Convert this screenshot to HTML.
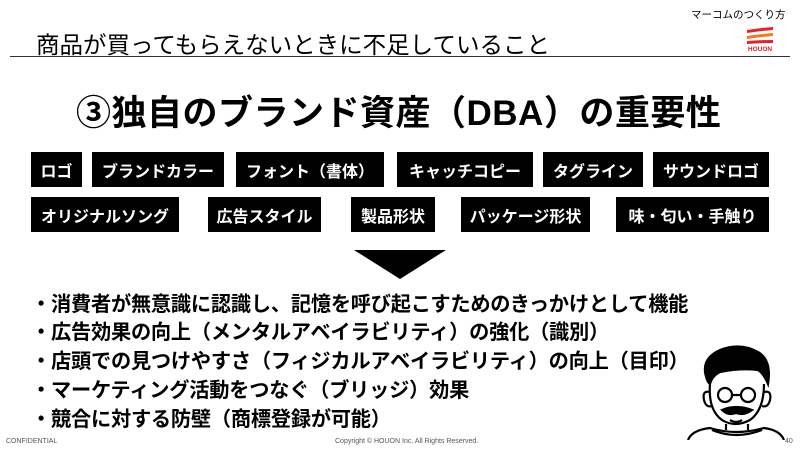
<!DOCTYPE html>
<html><head><meta charset="utf-8"><style>
body{margin:0;width:800px;height:450px;background:#fff;position:relative;overflow:hidden;font-family:"Liberation Sans","Noto Sans CJK JP",sans-serif;color:#000}
.a{position:absolute;white-space:nowrap}
.b{position:absolute;background:#000;color:#fff;font-weight:bold;font-size:16px;display:flex;align-items:center;justify-content:center;white-space:nowrap}
.r1{top:152px;height:35px}.r2{top:197px;height:35px}
.li{position:absolute;left:31px;font-size:20.2px;font-weight:bold;white-space:nowrap;letter-spacing:-0.2px}
</style></head><body>
<div class="a" style="left:691px;top:7px;font-size:10.5px">マーコムのつくり方</div>
<svg class="a" style="left:745px;top:26px" width="30" height="26" viewBox="0 0 30 26">
<path d="M2 4 Q15 2 28 1 L28 4 Q15 5 2 7Z" fill="#e8202a"/>
<path d="M2 10 Q15 8 28 7 L28 10 Q15 11 2 13Z" fill="#f07a20"/>
<path d="M2 15 Q15 14 28 14 L28 17 Q15 17 2 18Z" fill="#e8202a"/>
<text x="15" y="25" font-size="6.5" font-weight="bold" fill="#e8202a" text-anchor="middle" font-family="Liberation Sans">HOUON</text>
</svg>
<div class="a" style="left:36px;top:26px;font-size:23.5px">商品が買ってもらえないときに不足していること</div>
<div class="a" style="left:10px;top:56px;width:780px;height:1px;background:#333"></div>
<div class="a" style="left:76px;top:85px;font-size:35px;font-weight:bold;letter-spacing:0.5px">③独自のブランド資産（DBA）の重要性</div>
<div class="b r1" style="left:31px;width:51px">ロゴ</div>
<div class="b r1" style="left:92px;width:132px">ブランドカラー</div>
<div class="b r1" style="left:236px;width:148px">フォント（書体）</div>
<div class="b r1" style="left:397px;width:136px">キャッチコピー</div>
<div class="b r1" style="left:543px;width:100px">タグライン</div>
<div class="b r1" style="left:653px;width:116px">サウンドロゴ</div>
<div class="b r2" style="left:31px;width:148px">オリジナルソング</div>
<div class="b r2" style="left:208px;width:113px">広告スタイル</div>
<div class="b r2" style="left:351px;width:84px">製品形状</div>
<div class="b r2" style="left:461px;width:129px">パッケージ形状</div>
<div class="b r2" style="left:616px;width:153px">味・匂い・手触り</div>
<svg class="a" style="left:354px;top:250px" width="92" height="29"><polygon points="0,0 92,0 46,29" fill="#000"/></svg>
<div class="li" style="top:288px">・消費者が無意識に認識し、記憶を呼び起こすためのきっかけとして機能</div>
<div class="li" style="top:316px">・広告効果の向上（メンタルアベイラビリティ）の強化（識別）</div>
<div class="li" style="top:345px">・店頭での見つけやすさ（フィジカルアベイラビリティ）の向上（目印）</div>
<div class="li" style="top:374px">・マーケティング活動をつなぐ（ブリッジ）効果</div>
<div class="li" style="top:403px">・競合に対する防壁（商標登録が可能）</div>
<svg class="a" style="left:680px;top:340px" width="110" height="100" viewBox="0 0 110 100" fill="none" stroke="#000" stroke-width="2.2">
<path d="M28 42 Q18 20 40 10 Q60 2 78 12 Q92 20 88 44 Q84 34 78 30 Q60 28 40 32 Q32 36 30 44Z" fill="#000"/>
<path d="M30 44 Q28 70 42 80 Q55 88 70 80 Q84 70 84 44"/>
<path d="M30 52 Q22 50 24 60 Q26 68 32 66"/>
<path d="M84 52 Q92 50 90 60 Q88 68 82 66"/>
<circle cx="45" cy="55" r="7"/><circle cx="68" cy="55" r="7"/><path d="M52 55 L61 55"/>
<path d="M42 70 Q56 64 72 70 Q64 76 56 73 Q48 76 42 70Z" fill="#000"/>
<path d="M50 80 Q56 84 62 80"/>
<path d="M46 84 L46 90 M68 84 L68 90"/>
<path d="M8 100 Q12 90 30 88 Q56 96 84 88 Q100 90 104 100"/>
<path d="M32 90 Q56 100 82 90"/>
</svg>
<div class="a" style="left:6px;top:438px;font-size:7px;color:#555">CONFIDENTIAL</div>
<div class="a" style="left:335px;top:438px;font-size:7px;color:#555">Copyright © HOUON Inc. All Rights Reserved.</div>
<div class="a" style="left:785px;top:438px;font-size:7px;color:#555">40</div>
</body></html>
